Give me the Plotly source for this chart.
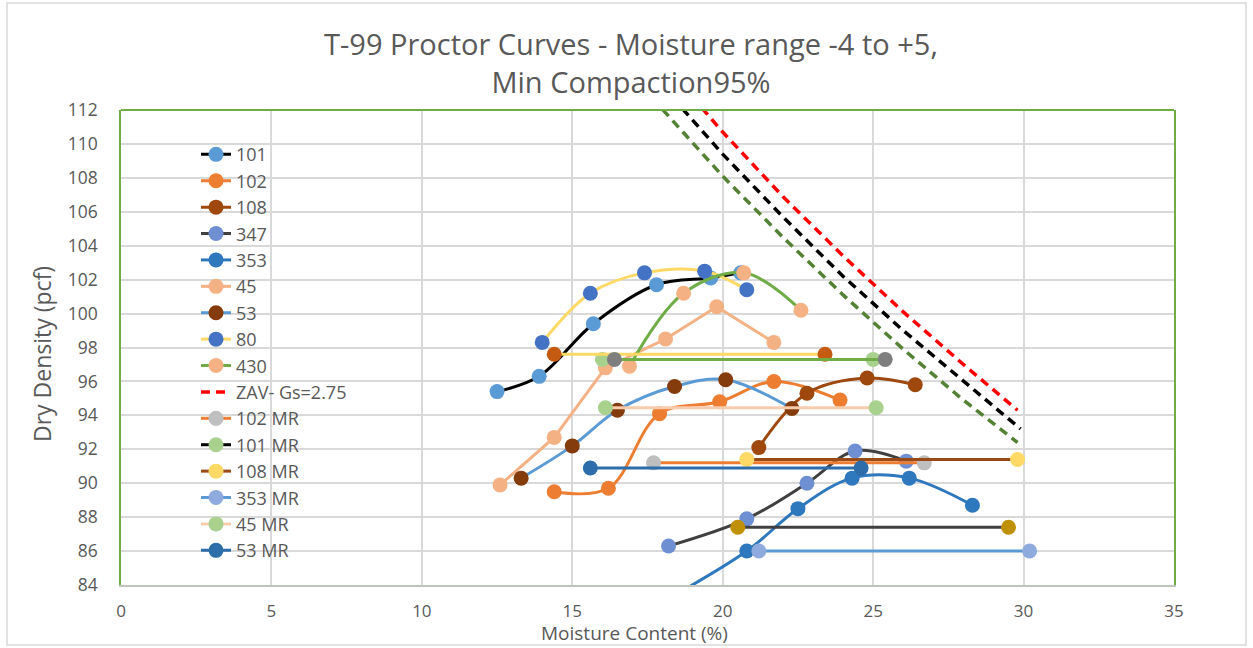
import plotly.graph_objects as go

# ---- Proctor curves: moisture content (%) vs dry density (pcf) ----
s101_x = [12.5, 13.9, 15.7, 17.8, 19.6, 20.6]
s101_y = [95.4, 96.3, 99.4, 101.7, 102.1, 102.4]

s102_x = [14.4, 16.2, 17.9, 19.9, 21.7, 23.9]
s102_y = [89.5, 89.7, 94.1, 94.8, 96.0, 94.9]

s108_x = [21.2, 22.8, 24.8, 26.4]
s108_y = [92.1, 95.3, 96.2, 95.8]

s347_x = [18.2, 20.8, 22.8, 24.4, 26.1]
s347_y = [86.3, 87.9, 90.0, 91.9, 91.3]

s353_x = [18.0, 20.8, 22.5, 24.3, 26.2, 28.3]
s353_y = [83.0, 86.0, 88.5, 90.3, 90.3, 88.7]

s45_x = [12.6, 14.4, 16.1, 18.1, 19.8, 21.7]
s45_y = [89.9, 92.7, 96.8, 98.5, 100.4, 98.3]

s53_x = [13.3, 15.0, 16.5, 18.4, 20.1, 22.3]
s53_y = [90.3, 92.2, 94.3, 95.7, 96.1, 94.4]

s80_x = [14.0, 15.6, 17.4, 19.4, 20.8]
s80_y = [98.3, 101.2, 102.4, 102.5, 101.4]

s430_x = [16.9, 18.7, 20.7, 22.6]
s430_y = [96.9, 101.2, 102.4, 100.2]

# ---- Zero-air-voids lines ----
zav275_x = [18, 20, 22, 24, 26, 28, 29.8]
zav275_y = [114.8, 110.7, 106.9, 103.4, 100.1, 97.0, 94.3]
zav270_x = [18, 20, 22, 24, 26, 28, 29.9]
zav270_y = [113.4, 109.4, 105.7, 102.2, 99.0, 96.0, 93.2]
zav265_x = [17, 20, 22, 24, 26, 28, 29.8]
zav265_y = [114.0, 108.1, 104.5, 101.1, 97.9, 94.9, 92.4]

# ---- Moisture range bands at 95% compaction ----
mr102_x = [17.7, 26.7]; mr102_y = [91.2, 91.2]
mr101_x = [16.0, 25.0]; mr101_y = [97.3, 97.3]
mr108_x = [20.8, 29.8]; mr108_y = [91.4, 91.4]
mr353_x = [21.2, 30.2]; mr353_y = [86.0, 86.0]
mr45_x = [16.1, 25.1]; mr45_y = [94.45, 94.45]
mr53_x = [15.6, 24.6]; mr53_y = [90.9, 90.9]
mr80_x = [14.4, 23.4]; mr80_y = [97.6, 97.6]
mr347_x = [20.5, 29.5]; mr347_y = [87.4, 87.4]
mr430_x = [16.4, 25.4]; mr430_y = [97.3, 97.3]

x_ticks = [0, 5, 10, 15, 20, 25, 30, 35]
y_ticks = list(range(84, 113, 2))

TITLE = "T-99 Proctor Curves - Moisture range -4 to +5,<br>Min Compaction95%"

FONT = "Open Sans"
GRAY = "#595959"

fig = go.Figure()


def add(name, x, y, line_color, marker_color, smooth=True, show=True,
        dash=None, markers=True, width=3):
    fig.add_trace(go.Scatter(
        x=x, y=y, name=name,
        mode="lines+markers" if markers else "lines",
        line=dict(color=line_color, width=width,
                  shape="spline" if smooth else "linear",
                  smoothing=1.0, dash=dash),
        marker=dict(color=marker_color, size=15, line=dict(width=0)),
        showlegend=show, legendgroup=name,
    ))


ZAV_DASH = "9px,6px"

add("101", s101_x, s101_y, "#000000", "#5B9BD5")
add("102", s102_x, s102_y, "#ED7D31", "#ED7D31")
add("108", s108_x, s108_y, "#9E480E", "#9E480E")
add("347", s347_x, s347_y, "#404040", "#6E8FD2")
add("353", s353_x, s353_y, "#2E78BE", "#2E78BE")
add("45", s45_x, s45_y, "#F4B183", "#F4B183", smooth=False)
add("53", s53_x, s53_y, "#5B9BD5", "#843C0C")
add("80", s80_x, s80_y, "#FFD966", "#4472C4")
add("430", s430_x, s430_y, "#70AD47", "#F4B183")
add("ZAV- Gs=2.75", zav275_x, zav275_y, "#FF0000", None, smooth=False,
    dash=ZAV_DASH, markers=False, width=3.5)
add("102 MR", mr102_x, mr102_y, "#ED7D31", "#BFBFBF")
add("101 MR", mr101_x, mr101_y, "#000000", "#A9D18E")
add("108 MR", mr108_x, mr108_y, "#9A4A16", "#FFD966")
add("353 MR", mr353_x, mr353_y, "#5B9BD5", "#8FAADC")
add("45 MR", mr45_x, mr45_y, "#F8CBAD", "#A9D18E")
add("53 MR", mr53_x, mr53_y, "#2D6DAA", "#2D6DAA")
add("ZAV- Gs=2.70", zav270_x, zav270_y, "#000000", None, smooth=False,
    dash=ZAV_DASH, markers=False, show=False, width=3.5)
add("ZAV- Gs=2.65", zav265_x, zav265_y, "#548235", None, smooth=False,
    dash=ZAV_DASH, markers=False, show=False, width=3.5)
add("80 MR", mr80_x, mr80_y, "#FFD966", "#C55A11", show=False)
add("347 MR", mr347_x, mr347_y, "#404040", "#BF9000", show=False)
add("430 MR", mr430_x, mr430_y, "#70AD47", "#7F7F7F", show=False)

fig.update_layout(
    width=1253, height=648,
    margin=dict(l=121, r=79, t=110, b=63),
    paper_bgcolor="white", plot_bgcolor="white",
    font=dict(family=FONT, color=GRAY),
    title=dict(
        text=TITLE,
        x=631 / 1253, xanchor="center", xref="container",
        y=1 - 55 / 648, yanchor="middle", yref="container",
        font=dict(family=FONT, size=29, color=GRAY),
    ),
    xaxis=dict(
        range=[0, 35], tickvals=x_ticks, showgrid=True,
        gridcolor="#D9D9D9", gridwidth=1.5, zeroline=False,
        showline=True, linecolor="#BFC4BC", linewidth=2,
        ticks="", tickfont=dict(family=FONT, size=17, color=GRAY),
        ticklabelstandoff=10,
    ),
    yaxis=dict(
        range=[84, 112], tickvals=y_ticks, showgrid=True,
        gridcolor="#D9D9D9", gridwidth=1.5, zeroline=False,
        showline=True, mirror=True, linecolor="#70AD47", linewidth=1.5,
        ticks="", tickfont=dict(family=FONT, size=17.5, color=GRAY),
        ticklabelstandoff=18,
    ),
    legend=dict(
        x=(196 - 121) / 1053, y=0.945, xanchor="left", yanchor="top",
        bgcolor="rgba(0,0,0,0)", borderwidth=0,
        font=dict(family=FONT, size=18, color=GRAY),
        tracegroupgap=0, itemwidth=30,
    ),
    showlegend=True,
)

# top edge of the plot area
fig.add_shape(type="line", xref="paper", yref="paper", x0=0, x1=1, y0=1, y1=1,
              line=dict(color="#70AD47", width=2), layer="above")
# chart frame
fig.add_shape(type="rect", xref="paper", yref="paper",
              x0=(7 - 121) / 1053, x1=(1246 - 121) / 1053,
              y0=(585 - 645) / 475, y1=(585 - 3) / 475,
              line=dict(color="#D9D9D9", width=1.5), layer="below")

fig.add_annotation(text="Moisture Content (%)", xref="paper", yref="paper",
                   x=(634 - 121) / 1053, y=(585 - 633) / 475,
                   showarrow=False, xanchor="center", yanchor="middle",
                   font=dict(family=FONT, size=19, color=GRAY))
fig.add_annotation(text="Dry Density (pcf)", xref="paper", yref="paper",
                   x=(42 - 121) / 1053, y=(585 - 354) / 475, textangle=-90,
                   showarrow=False, xanchor="center", yanchor="middle",
                   font=dict(family=FONT, size=23, color=GRAY))

fig.write_html("out.html")
